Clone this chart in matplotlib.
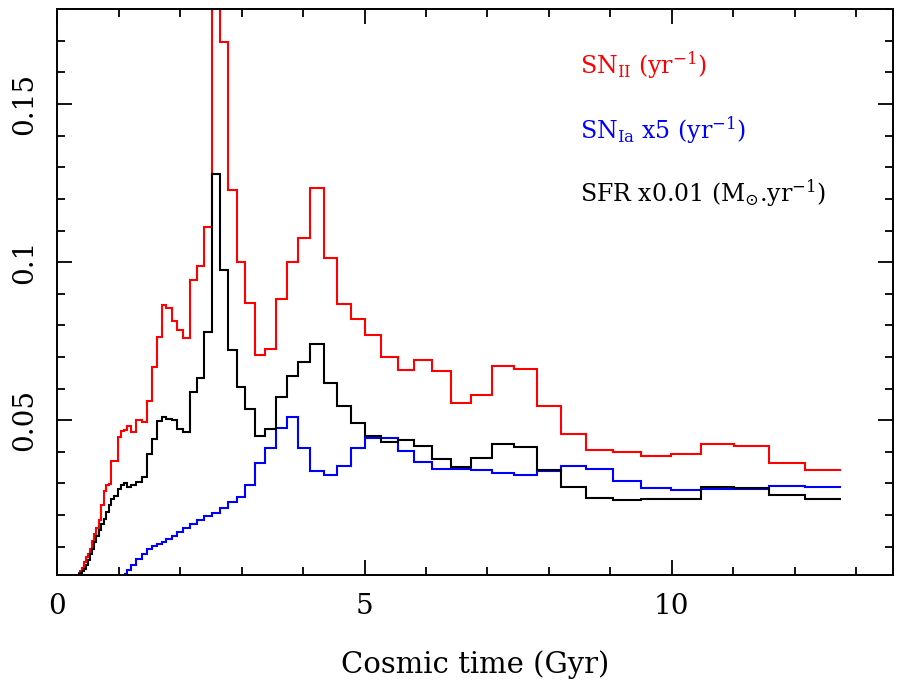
import matplotlib
matplotlib.use("Agg")
import matplotlib.pyplot as plt
from matplotlib.ticker import MultipleLocator, FixedLocator

plt.rcParams['font.family'] = ['DejaVu Serif']
plt.rcParams['mathtext.fontset'] = 'dejavuserif'

# bin edges in cosmic time (Gyr), shared by all three histograms
edges = [0.336, 0.368, 0.401, 0.433, 0.466, 0.498, 0.531, 0.564, 0.596, 0.629,
         0.669, 0.710, 0.751, 0.792, 0.832, 0.873, 0.922, 0.982, 1.036, 1.085,
         1.134, 1.199, 1.280, 1.373, 1.454, 1.536, 1.617, 1.699, 1.769, 1.862,
         1.953, 2.051, 2.160, 2.269, 2.388, 2.513, 2.648, 2.783, 2.920, 3.055,
         3.218, 3.381, 3.560, 3.735, 3.923, 4.114, 4.331, 4.549, 4.777, 5.010,
         5.265, 5.536, 5.808, 6.096, 6.405, 6.731, 7.073, 7.425, 7.806, 8.197,
         8.609, 9.044, 9.500, 9.989, 10.482, 11.008, 11.578, 12.160, 12.757]

# SN II rate (yr^-1)
sn2 = [0.0015, 0.0022, 0.0031, 0.0050, 0.0066, 0.0075, 0.0091, 0.0117, 0.0139, 0.0158,
       0.0183, 0.0233, 0.0275, 0.0294, 0.0297, 0.0372, 0.0372, 0.0448, 0.0465,
       0.0470, 0.0480, 0.0461, 0.0502,
       0.0494, 0.0560, 0.0668, 0.0764, 0.0863, 0.0855, 0.0813, 0.0785, 0.0761,
       0.0945, 0.0987, 0.1110, 0.2100, 0.1695, 0.1227, 0.1000,
       0.0871, 0.0705, 0.0724, 0.0884, 0.1000, 0.1077, 0.1233, 0.1013,
       0.0866, 0.0821, 0.0768, 0.0699, 0.0660, 0.0690, 0.0655, 0.0555, 0.0579, 0.0671, 0.0662, 0.0544,
       0.0457, 0.0407, 0.0398, 0.0386, 0.0392, 0.0425, 0.0418, 0.0365, 0.0341]

# SFR x0.01 (Msun/yr)
sfr = [0.0012, 0.0015, 0.0022, 0.0028, 0.0041, 0.0056, 0.0075, 0.0091, 0.0113, 0.0135,
       0.0154, 0.0170, 0.0186, 0.0208, 0.0233, 0.0249, 0.0259, 0.0281, 0.0294,
       0.0300, 0.0290, 0.0294, 0.0303,
       0.0319, 0.0392, 0.0440, 0.0496, 0.0509, 0.0504, 0.0499, 0.0471, 0.0461,
       0.0589, 0.0632, 0.0779, 0.1280, 0.0974, 0.0721, 0.0604,
       0.0534, 0.0449, 0.0471, 0.0573, 0.0641, 0.0683, 0.0742, 0.0616,
       0.0544, 0.0492, 0.0449, 0.0430, 0.0436, 0.0418, 0.0376, 0.0351, 0.0381, 0.0423, 0.0415, 0.0342,
       0.0288, 0.0255, 0.0248, 0.0252, 0.0249, 0.0289, 0.0286, 0.0262, 0.0251]

# SN Ia rate x5 (yr^-1), starts later (from 1.085 Gyr)
sn1a = [0.0012, 0.0025, 0.0041, 0.0060,
        0.0075, 0.0091, 0.0101, 0.0107, 0.0113, 0.0123, 0.0132, 0.0145, 0.0158,
        0.0170, 0.0183, 0.0196, 0.0206, 0.0223, 0.0241, 0.0258,
        0.0294, 0.0363, 0.0413, 0.0474, 0.0511, 0.0413, 0.0339, 0.0328,
        0.0356, 0.0411, 0.0444, 0.0442, 0.0402, 0.0367, 0.0347, 0.0344, 0.0342, 0.0334, 0.0326, 0.0338,
        0.0355, 0.0346, 0.0309, 0.0286, 0.0279, 0.0281, 0.0283, 0.0291, 0.0287]

fig = plt.figure(figsize=(8.99, 6.83), dpi=100)
ax = fig.add_axes([0.0639, 0.1581, 0.9294, 0.8283])

lw = 1.5
ax.stairs(sn2, edges, baseline=None, color='#ff0000', lw=lw)
ax.stairs(sn1a, edges[len(edges) - len(sn1a) - 1:], baseline=None, color='#0000ff', lw=lw)
ax.stairs(sfr, edges, baseline=None, color='black', lw=lw)

ax.set_xlim(0, 13.6)
ax.set_ylim(0.001, 0.18)

ax.xaxis.set_major_locator(FixedLocator([0, 5, 10]))
ax.xaxis.set_minor_locator(MultipleLocator(1))
ax.yaxis.set_major_locator(FixedLocator([0.05, 0.1, 0.15]))
ax.yaxis.set_minor_locator(MultipleLocator(0.01))
ax.set_xticklabels(['0', '5', '10'])
ax.set_yticklabels(['0.05', '0.1', '0.15'])

ax.tick_params(which='both', direction='in', top=True, right=True, width=1.3)
ax.tick_params(which='major', length=11)
ax.tick_params(which='minor', length=5.5)
ax.tick_params(axis='x', labelsize=20, pad=13)
ax.tick_params(axis='y', labelsize=20, pad=14)
plt.setp(ax.get_yticklabels(), rotation=90, va='center')

for s in ax.spines.values():
    s.set_linewidth(1.4)

ax.set_xlabel('Cosmic time (Gyr)', fontsize=21, labelpad=22)

# legend-like labels, placed in figure pixels from the top-left
W, H = 899, 683
labels = [r'SN$_{\rm II}$ (yr$^{-1}$)',
          r'SN$_{\rm Ia}$ x5 (yr$^{-1}$)',
          r'SFR x0.01 (M$_{\odot}$.yr$^{-1}$)']
colors = ['#ff0000', '#0000ff', 'black']
rows = [65, 130, 193]
for lab, c, py in zip(labels, colors, rows):
    fig.text(580 / W, 1 - py / H, lab, color=c, fontsize=17, va='center', ha='left')

fig.savefig('out.png', dpi=100)
